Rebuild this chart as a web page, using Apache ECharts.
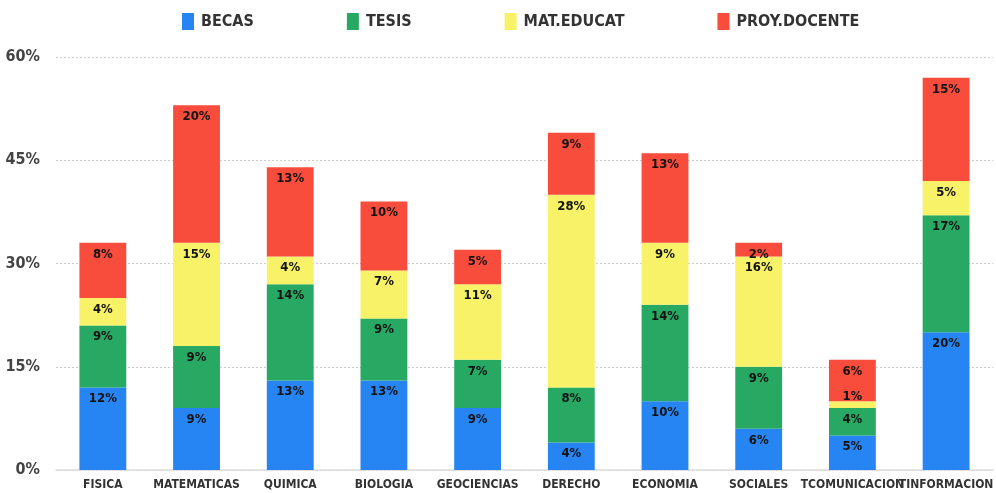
<!DOCTYPE html>
<html><head><meta charset="utf-8">
<script src="https://cdn.jsdelivr.net/npm/echarts@6/dist/echarts.min.js"></script>
<style>html,body{margin:0;padding:0;background:#fff}#c{width:996px;height:493px}</style>
</head><body><div id="c"></div>
<script>
const categories = ['FISICA','MATEMATICAS','QUIMICA','BIOLOGIA','GEOCIENCIAS','DERECHO','ECONOMIA','SOCIALES','TCOMUNICACION','TINFORMACION'];
const seriesNames = ['BECAS','TESIS','MAT.EDUCAT','PROY.DOCENTE'];
const becas = [12, 9, 13, 13, 9, 4, 10, 6, 5, 20];
const tesis = [9, 9, 14, 9, 7, 8, 14, 9, 4, 17];
const matEducat = [4, 15, 4, 7, 11, 28, 9, 16, 1, 5];
const proyDocente = [8, 20, 13, 10, 5, 9, 13, 2, 6, 15];
const yTicks = [0, 15, 30, 45, 60];
const colors = ['#2685F2', '#27A863', '#F7F267', '#F84D3D'];

const FONT = '"DejaVu Sans Condensed", "Liberation Sans Narrow", sans-serif';
const chart = echarts.init(document.getElementById('c'), null, {renderer: 'canvas'});
const data = [becas, tesis, matEducat, proyDocente];
chart.setOption({
  animation: false,
  color: colors,
  legend: {
    top: 8, left: 177,
    itemWidth: 12, itemHeight: 17, itemGap: 93,
    icon: 'rect',
    textStyle: {fontFamily: FONT, fontWeight: 'bold', fontSize: 16, color: '#333', padding: [0,0,0,2]},
    data: seriesNames
  },
  grid: {left: 56, width: 944, top: 57, bottom: 23, containLabel: false},
  xAxis: {
    type: 'category', data: categories,
    axisTick: {show: false},
    axisLine: {lineStyle: {color: '#ddd', width: 1.5}},
    axisLabel: {fontFamily: FONT, fontWeight: 'bold', fontSize: 12, color: '#333', margin: 9, interval: 0}
  },
  yAxis: {
    type: 'value', min: yTicks[0], max: yTicks[yTicks.length-1], interval: 15,
    axisLine: {show: false}, axisTick: {show: false},
    splitLine: {lineStyle: {color: '#ccc', type: [2, 2]}},
    axisLabel: {formatter: v => v + '%', fontFamily: FONT, fontWeight: 'bold', fontSize: 16, color: '#444', margin: 16}
  },
  series: seriesNames.map((n, i) => ({
    name: n, type: 'bar', stack: 'total', barWidth: '50%',
    data: data[i].map(v => (v < 2 ? {value: v, label: {position: 'insideBottom'}} : v)),
    label: {show: true, position: 'insideTop', distance: 5, formatter: p => p.value + '%',
      fontFamily: FONT, fontWeight: 'bold', fontSize: 13, color: '#111'}
  }))
});
</script></body></html>
